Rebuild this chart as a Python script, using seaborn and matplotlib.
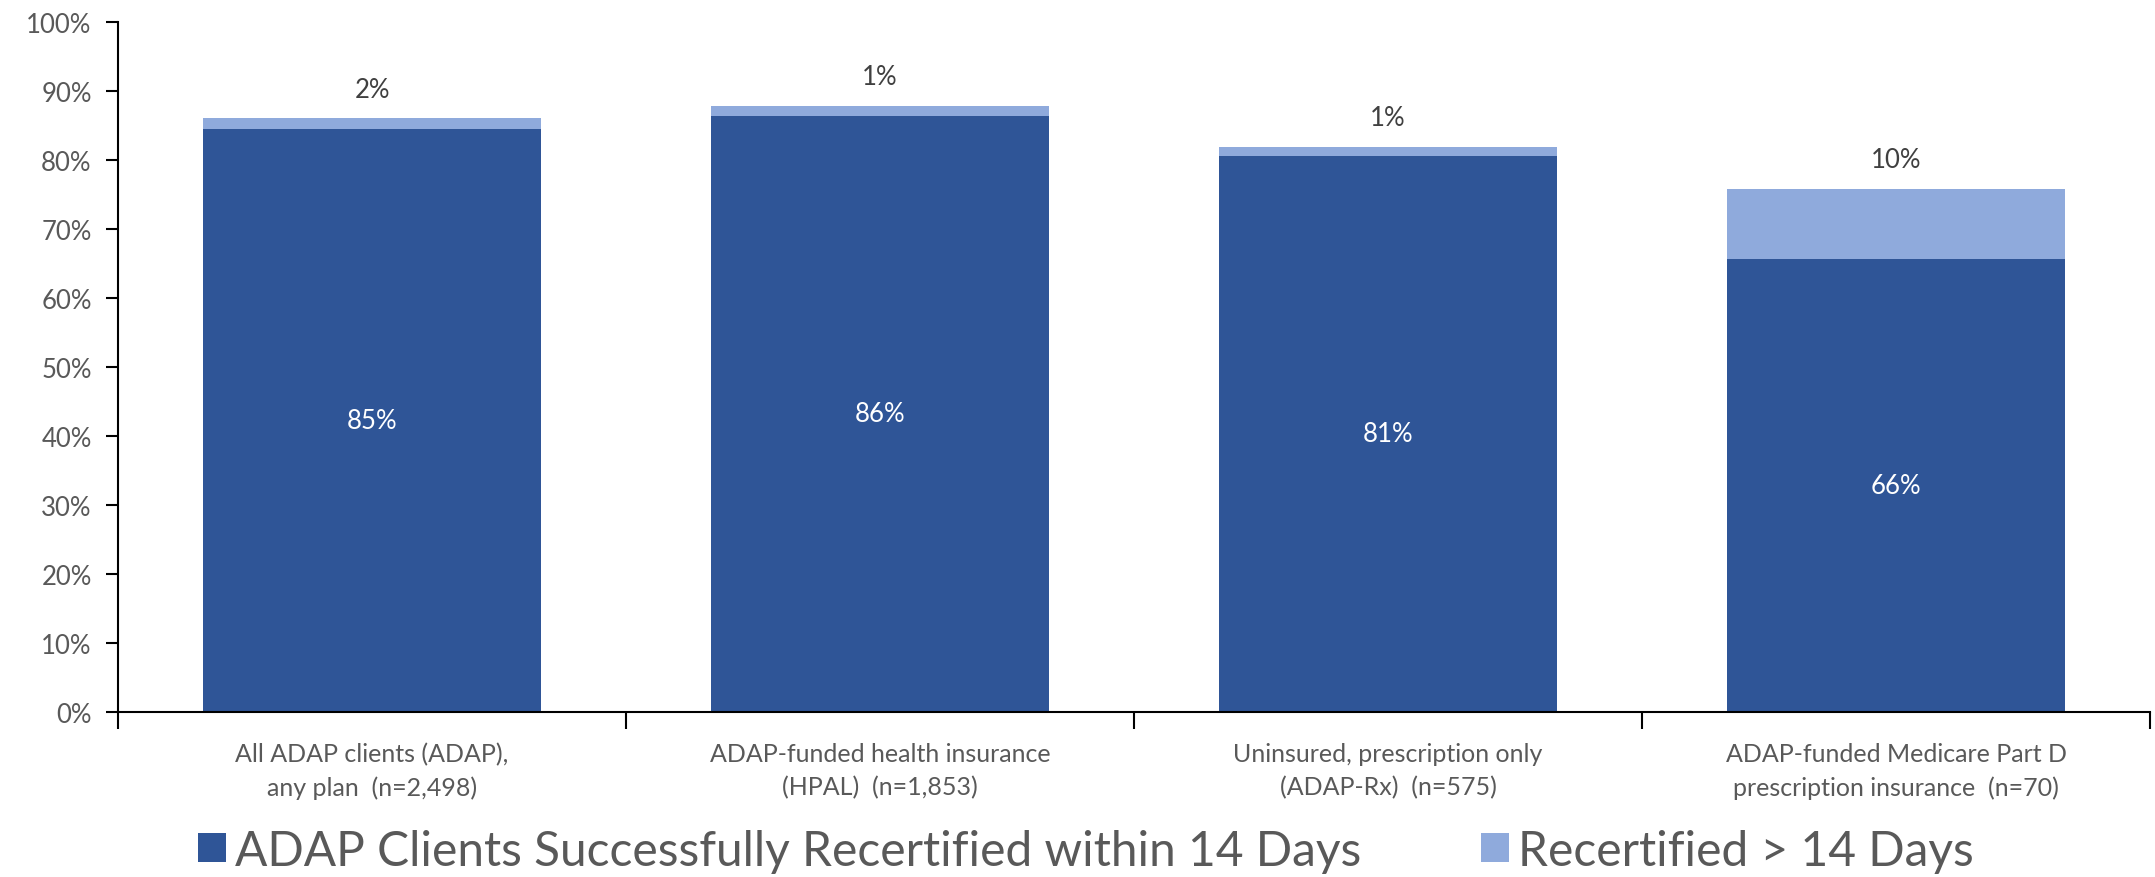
import matplotlib
matplotlib.use("Agg")
import matplotlib.pyplot as plt
import seaborn as sns
import pandas as pd
from matplotlib.patches import Patch
from matplotlib.ticker import FixedLocator, PercentFormatter

categories = [
    "All ADAP clients (ADAP),\nany plan  (n=2,498)",
    "ADAP-funded health insurance\n(HPAL)  (n=1,853)",
    "Uninsured, prescription only\n(ADAP-Rx)  (n=575)",
    "ADAP-funded Medicare Part D\nprescription insurance  (n=70)",
]
within_14 = [84.5, 86.4, 80.6, 65.7]
over_14 = [1.5, 1.4, 1.3, 10.1]
within_labels = ["85%", "86%", "81%", "66%"]
over_labels = ["2%", "1%", "1%", "10%"]
series_names = ["ADAP Clients Successfully Recertified within 14 Days", "Recertified > 14 Days"]
yticks = [0, 10, 20, 30, 40, 50, 60, 70, 80, 90, 100]

DARK = "#2F5597"
LIGHT = "#8FAADC"

sns.set_theme(style="white")
plt.rcParams["font.family"] = ["Lato", "DejaVu Sans"]

df = pd.DataFrame({
    "category": categories,
    "within": within_14,
    "over": over_14,
})
df["total"] = df["within"] + df["over"]

fig = plt.figure(figsize=(21.55, 8.78), dpi=100)
ax = fig.add_axes([0.0548, 0.188, 0.9429, 0.786])

sns.barplot(data=df, x="category", y="total", color=LIGHT, width=0.665,
            saturation=1, ax=ax, edgecolor="none")
sns.barplot(data=df, x="category", y="within", color=DARK, width=0.665,
            saturation=1, ax=ax, edgecolor="none")

ax.set_xlim(-0.5, len(categories) - 0.5)
ax.set_ylim(0, 100)
ax.set_xlabel("")
ax.set_ylabel("")

ax.yaxis.set_major_locator(FixedLocator(yticks))
ax.yaxis.set_major_formatter(PercentFormatter(decimals=0))
ax.tick_params(axis="y", direction="out", length=9, width=1.5, color="black",
               labelsize=18.5, labelcolor="#595959", pad=10, left=True)
ax.set_xticks(range(len(categories)), labels=categories)
ax.tick_params(axis="x", which="major", length=0, labelsize=18,
               labelcolor="#595959", pad=22)
ax.set_xticks([i - 0.5 for i in range(len(categories) + 1)], minor=True)
ax.tick_params(axis="x", which="minor", direction="out", length=12, width=1.5,
               color="black", bottom=True)

for s in ["top", "right"]:
    ax.spines[s].set_visible(False)
for s in ["left", "bottom"]:
    ax.spines[s].set_color("black")
    ax.spines[s].set_linewidth(1.5)

for i in range(len(categories)):
    ax.text(i, within_14[i] / 2, within_labels[i], ha="center", va="center",
            color="white", fontsize=18.5)
    ax.annotate(over_labels[i], xy=(i, within_14[i] + over_14[i]),
                xytext=(0, 21), textcoords="offset points", ha="center",
                va="center", color="#404040", fontsize=18.5)

handles = [Patch(facecolor=DARK, edgecolor="none"), Patch(facecolor=LIGHT, edgecolor="none")]
fig.legend(handles, series_names, loc="center", bbox_to_anchor=(0.504, 0.03),
           ncol=2, frameon=False, fontsize=34.5, labelcolor="#595959",
           handlelength=0.57, handleheight=0.57, handletextpad=0.2,
           columnspacing=2.5)

fig.canvas.draw()
for tick in ax.xaxis.get_major_ticks():
    tick.label1.set_linespacing(1.5)

fig.savefig("out.png", dpi=100)
